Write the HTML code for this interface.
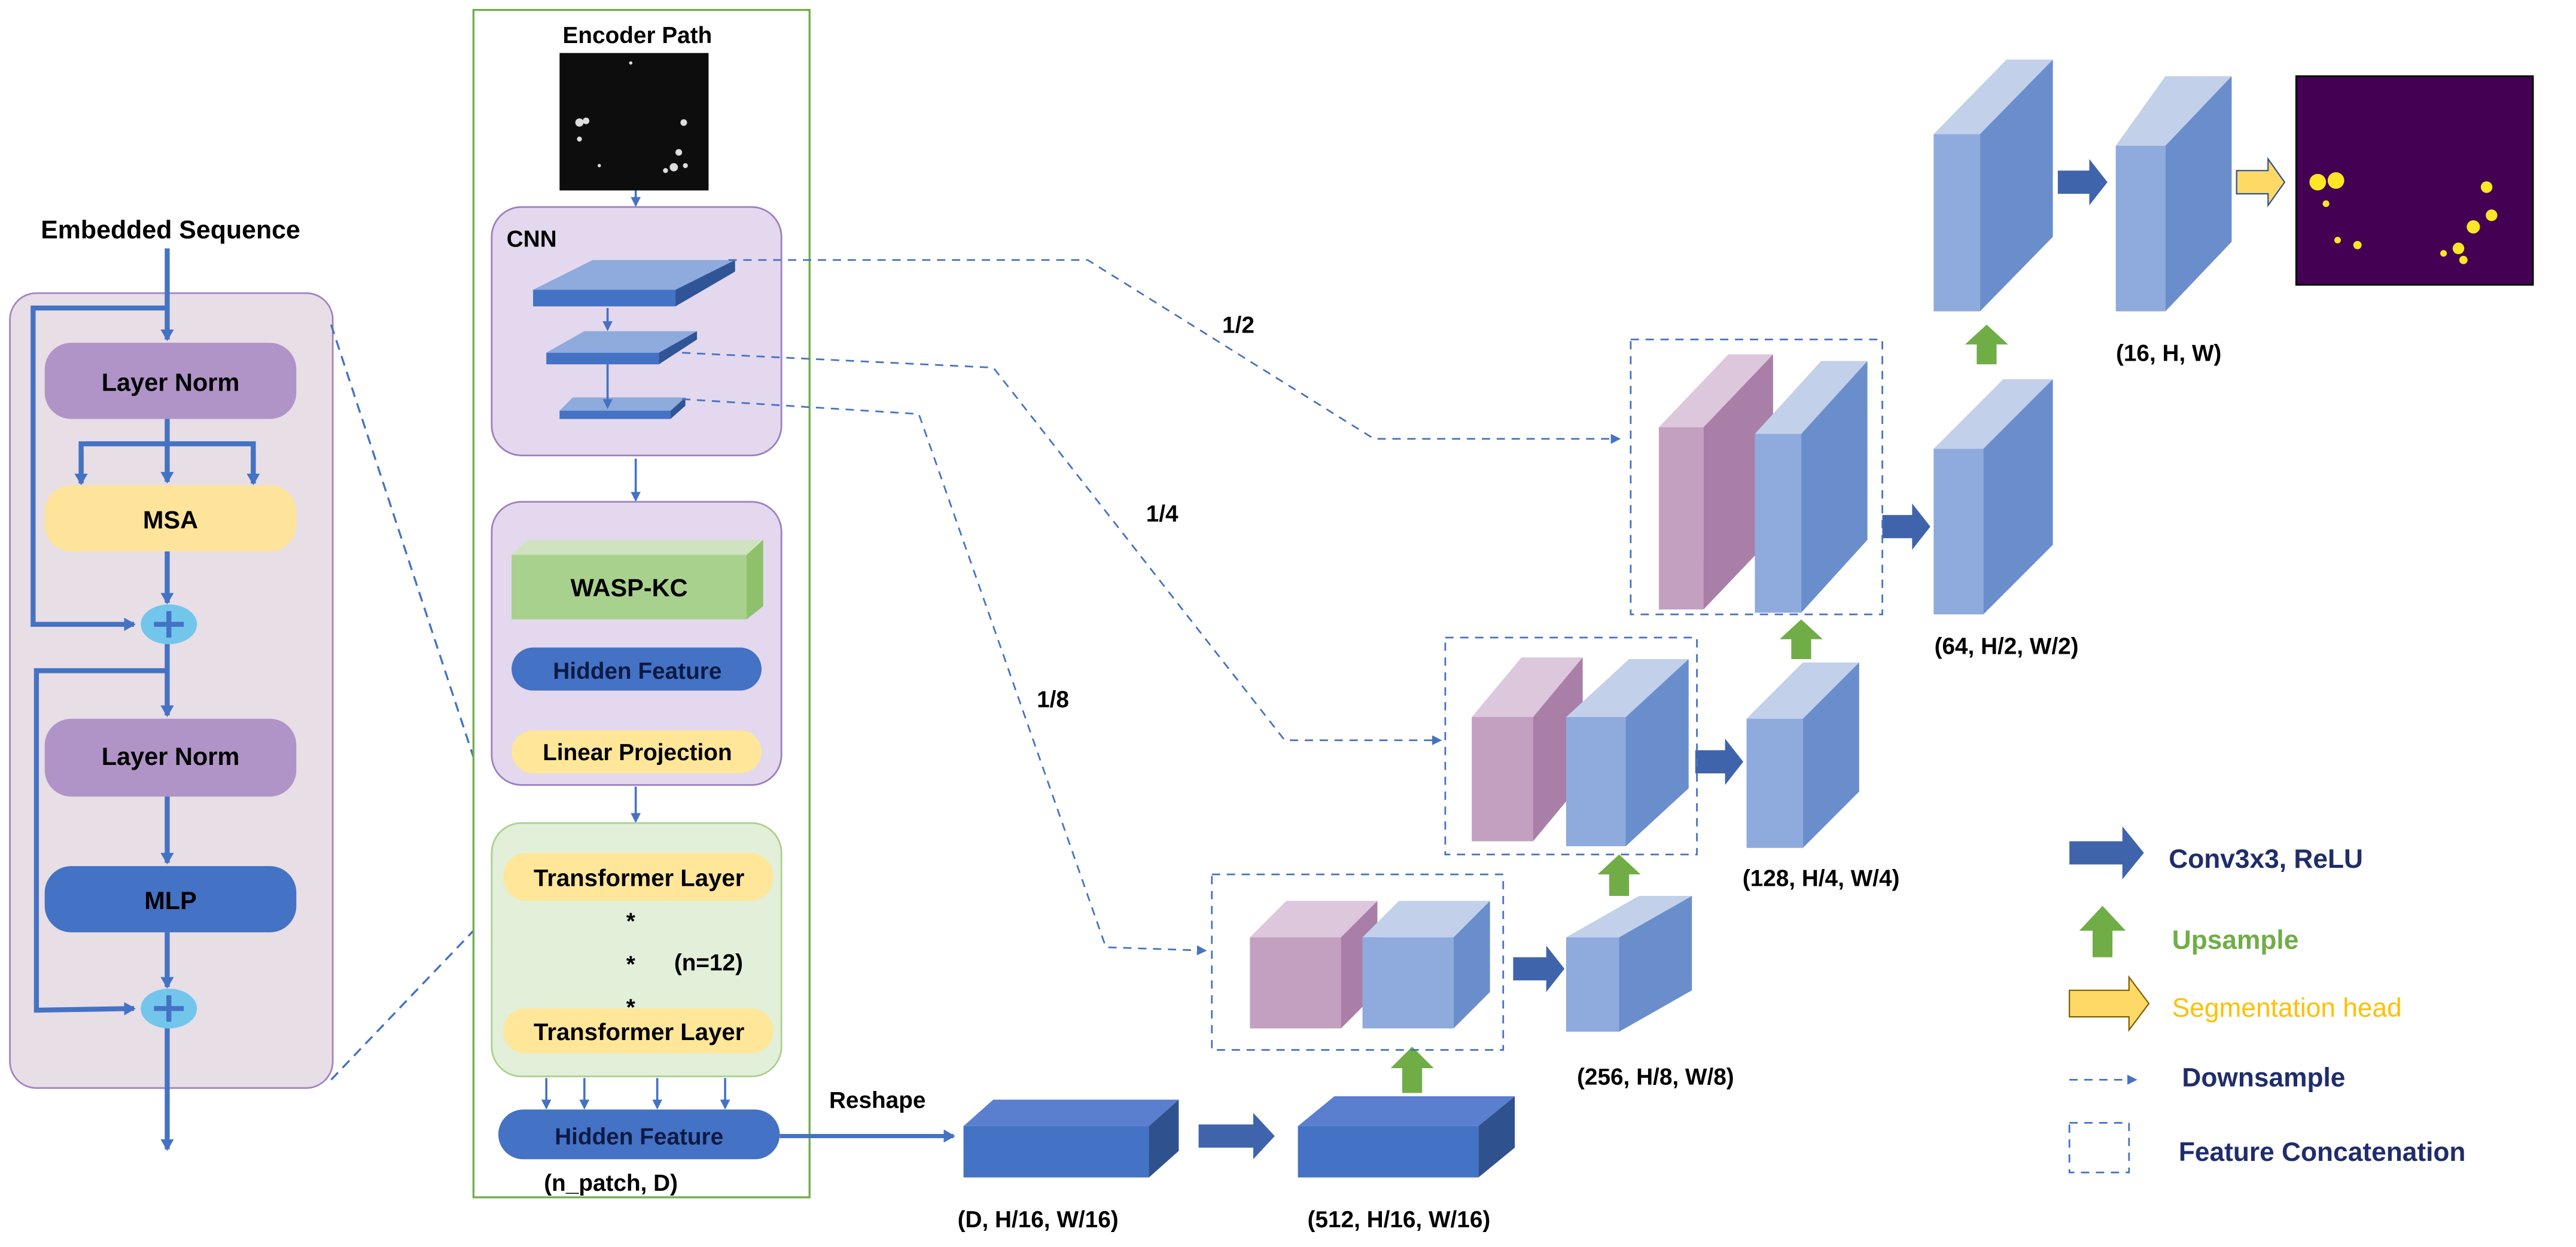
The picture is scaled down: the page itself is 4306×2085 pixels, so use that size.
<!DOCTYPE html>
<html><head><meta charset="utf-8"><style>
html,body{margin:0;padding:0;background:#fff;}
svg{display:block;}
text{font-family:"Liberation Sans",Arial,sans-serif;font-weight:bold;}
</style></head><body>
<svg width="4306" height="2085" viewBox="0 0 1556 753" preserveAspectRatio="none" xmlns="http://www.w3.org/2000/svg">
<defs>
<marker id="ah" markerWidth="8" markerHeight="8" refX="6" refY="4" orient="auto" markerUnits="userSpaceOnUse"><path d="M0,0 L7,4 L0,8 z" fill="#4472c4"/></marker>
<marker id="ahs" markerWidth="6" markerHeight="6" refX="5" refY="3" orient="auto" markerUnits="userSpaceOnUse"><path d="M0,0 L6,3 L0,6 z" fill="#4472c4"/></marker>
</defs>
<!-- Left panel -->
<text x="103" y="144" font-size="15.5" text-anchor="middle" fill="#000">Embedded Sequence</text>
<rect x="6" y="177" width="195" height="480" rx="16" fill="#e8dee6" stroke="#a383c4" stroke-width="1"/>
<g stroke="#4472c4" stroke-width="3" fill="none">
<line x1="101" y1="150" x2="101" y2="205" marker-end="url(#ah)"/>
<polyline points="101,186 20,186 20,377 81,377" marker-end="url(#ah)"/>
<line x1="101" y1="252" x2="101" y2="291" marker-end="url(#ah)"/>
<polyline points="49,291 49,268 153,268 153,291"/>
<line x1="49" y1="272" x2="49" y2="292" marker-end="url(#ah)"/>
<line x1="153" y1="272" x2="153" y2="292" marker-end="url(#ah)"/>
<line x1="101" y1="333" x2="101" y2="364" marker-end="url(#ah)"/>
<line x1="101" y1="388" x2="101" y2="432" marker-end="url(#ah)"/>
<polyline points="101,405 22,405 22,610 81,609" marker-end="url(#ah)"/>
<line x1="101" y1="479" x2="101" y2="521" marker-end="url(#ah)"/>
<line x1="101" y1="563" x2="101" y2="596" marker-end="url(#ah)"/>
<line x1="101" y1="620" x2="101" y2="694" marker-end="url(#ah)"/>
</g>
<rect x="27" y="207" width="152" height="46" rx="16" fill="#b094c8"/>
<text x="103" y="236" font-size="15" text-anchor="middle">Layer Norm</text>
<rect x="27" y="293" width="152" height="40" rx="16" fill="#fde49a"/>
<text x="103" y="319" font-size="15" text-anchor="middle">MSA</text>
<ellipse cx="102" cy="377" rx="17" ry="12" fill="#72c6ec"/>
<path d="M93,377 H111 M102,369 V385" stroke="#4472c4" stroke-width="3"/>
<rect x="27" y="434" width="152" height="47" rx="16" fill="#b094c8"/>
<text x="103" y="462" font-size="15" text-anchor="middle">Layer Norm</text>
<rect x="27" y="523" width="152" height="40" rx="16" fill="#4472c4"/>
<text x="103" y="549" font-size="15" text-anchor="middle">MLP</text>
<ellipse cx="102" cy="609" rx="17" ry="12" fill="#72c6ec"/>
<path d="M93,609 H111 M102,601 V617" stroke="#4472c4" stroke-width="3"/>
<!-- dashed zoom lines -->
<line x1="200" y1="196" x2="305" y2="515" stroke="#4472c4" stroke-width="1.2" stroke-dasharray="6,4"/>
<line x1="200" y1="652" x2="307" y2="540" stroke="#4472c4" stroke-width="1.2" stroke-dasharray="6,4"/>
<!-- Encoder panel -->
<rect x="286" y="6" width="203" height="717" fill="#fff" stroke="#70ad47" stroke-width="1.2"/>
<text x="385" y="26" font-size="14" text-anchor="middle">Encoder Path</text>
<rect x="338" y="32" width="90" height="83" fill="#0d0d0d"/>
<g fill="#ddd"><circle cx="350" cy="74" r="2.5"/><circle cx="354" cy="73" r="2"/><circle cx="350" cy="84" r="1.5"/><circle cx="413" cy="74" r="2"/><circle cx="410" cy="92" r="2"/><circle cx="407" cy="101" r="2.5"/><circle cx="402" cy="103" r="1.5"/><circle cx="414" cy="100" r="1.5"/><circle cx="381" cy="38" r="1"/><circle cx="362" cy="100" r="1"/></g>
<rect x="297" y="125" width="175" height="150" rx="18" fill="#e3d8ed" stroke="#9b7fc0" stroke-width="1"/>
<text x="306" y="149" font-size="14">CNN</text>
<polygon points="322,175 358,157 444,157 408,175" fill="#8faadc"/>
<rect x="322" y="175" width="86" height="10" fill="#4472c4"/>
<polygon points="408,175 444,157 444,164 408,185" fill="#2f5597"/>
<polygon points="330,213 353,200 421,200 398,213" fill="#8faadc"/>
<rect x="330" y="213" width="68" height="7" fill="#4472c4"/>
<polygon points="398,213 421,200 421,205 398,220" fill="#2f5597"/>
<polygon points="338,248 346,240 414,240 405,248" fill="#8faadc"/>
<rect x="338" y="248" width="67" height="5" fill="#4472c4"/>
<polygon points="405,248 414,240 414,245 405,253" fill="#2f5597"/>
<g stroke="#4472c4" stroke-width="1.3" fill="none">
<line x1="384" y1="115" x2="384" y2="124" marker-end="url(#ahs)"/>
<line x1="367" y1="186" x2="367" y2="199" marker-end="url(#ahs)"/>
<line x1="367" y1="220" x2="367" y2="246" marker-end="url(#ahs)"/>
<line x1="384" y1="277" x2="384" y2="302" marker-end="url(#ahs)"/>
<line x1="384" y1="475" x2="384" y2="496" marker-end="url(#ahs)"/>
<line x1="330" y1="651" x2="330" y2="669" marker-end="url(#ahs)"/>
<line x1="353" y1="651" x2="353" y2="669" marker-end="url(#ahs)"/>
<line x1="397" y1="651" x2="397" y2="669" marker-end="url(#ahs)"/>
<line x1="438" y1="651" x2="438" y2="669" marker-end="url(#ahs)"/>
</g>
<rect x="297" y="303" width="175" height="171" rx="18" fill="#e3d8ed" stroke="#9b7fc0" stroke-width="1"/>
<polygon points="309,335 319,326 461,326 451,335" fill="#cfe3c0"/>
<rect x="309" y="335" width="142" height="39" fill="#a9d18e"/>
<polygon points="451,335 461,326 461,366 451,374" fill="#8dc16a"/>
<text x="380" y="360" font-size="15" text-anchor="middle">WASP-KC</text>
<rect x="309" y="391" width="151" height="26" rx="13" fill="#4472c4"/>
<text x="385" y="410" font-size="14" text-anchor="middle" fill="#0c1a45">Hidden Feature</text>
<rect x="309" y="441" width="151" height="26" rx="13" fill="#ffe699"/>
<text x="385" y="459" font-size="14" text-anchor="middle">Linear Projection</text>
<rect x="297" y="497" width="175" height="153" rx="18" fill="#e2efd9" stroke="#a9d18e" stroke-width="1"/>
<rect x="304" y="515" width="163" height="29" rx="14" fill="#ffe699"/>
<text x="386" y="535" font-size="14.5" text-anchor="middle">Transformer Layer</text>
<rect x="304" y="609" width="163" height="27" rx="13" fill="#ffe699"/>
<text x="386" y="628" font-size="14.5" text-anchor="middle">Transformer Layer</text>
<text x="381" y="561" font-size="14" text-anchor="middle">*</text>
<text x="381" y="587" font-size="14" text-anchor="middle">*</text>
<text x="381" y="613" font-size="14" text-anchor="middle">*</text>
<text x="428" y="586" font-size="14" text-anchor="middle">(n=12)</text>
<rect x="301" y="670" width="170" height="30" rx="15" fill="#4472c4"/>
<text x="386" y="691" font-size="14" text-anchor="middle" fill="#0c1a45">Hidden Feature</text>
<text x="369" y="719" font-size="14" text-anchor="middle">(n_patch, D)</text>
<line x1="471" y1="686" x2="576" y2="686" stroke="#4472c4" stroke-width="2.5" marker-end="url(#ah)"/>
<text x="530" y="669" font-size="14" text-anchor="middle">Reshape</text>
<!-- dashed skip connections -->
<g stroke="#4472c4" stroke-width="1" stroke-dasharray="5,4" fill="none">
<polyline points="440,157 657,157 830,265 978,265" marker-end="url(#ahs)"/>
<polyline points="412,213 600,222 776,447 870,447" marker-end="url(#ahs)"/>
<polyline points="412,241 555,250 668,572 728,574" marker-end="url(#ahs)"/>
</g>
<text x="748" y="201" font-size="14" text-anchor="middle">1/2</text>
<text x="702" y="315" font-size="14" text-anchor="middle">1/4</text>
<text x="636" y="427" font-size="14" text-anchor="middle">1/8</text>
<!-- bottom blocks -->
<polygon points="582,680 600,664 712,664 694,680" fill="#5b7fcf"/>
<rect x="582" y="680" width="112" height="31" fill="#4472c4"/>
<polygon points="694,680 712,664 712,695 694,711" fill="#2f528f"/>
<polygon points="784,680 806,662 915,662 893,680" fill="#5b7fcf"/>
<rect x="784" y="680" width="109" height="31" fill="#4472c4"/>
<polygon points="893,680 915,662 915,693 893,711" fill="#2f528f"/>
<text x="627" y="741" font-size="14" text-anchor="middle">(D, H/16, W/16)</text>
<text x="845" y="741" font-size="14" text-anchor="middle">(512, H/16, W/16)</text>
<!-- blue arrows -->
<g fill="#3f64ac">
<polygon points="724,679 757,679 757,672 770,686 757,700 757,693 724,693"/>
<polygon points="914,578 934,578 934,571 945,585 934,599 934,592 914,592"/>
<polygon points="1024,453 1042,453 1042,446 1053,460 1042,474 1042,467 1024,467"/>
<polygon points="1137,311 1155,311 1155,304 1166,318 1155,332 1155,325 1137,325"/>
<polygon points="1243,103 1262,103 1262,96 1273,110 1262,124 1262,117 1243,117"/>
</g>
<polygon points="1351,103 1370,103 1370,96 1380,110 1370,124 1370,117 1351,117" fill="#ffd966" stroke="#2f528f" stroke-width="0.8"/>
<!-- green arrows -->
<g fill="#70ad47">
<polygon points="847,660 859,660 859,645 866,645 853,632 840,645 847,645"/>
<polygon points="972,541 984,541 984,528 991,528 978,516 965,528 972,528"/>
<polygon points="1082,398 1094,398 1094,386 1101,386 1088,374 1075,386 1082,386"/>
<polygon points="1194,220 1206,220 1206,208 1213,208 1200,196 1187,208 1194,208"/>
<polygon points="1264,578 1276,578 1276,562 1284,562 1270,547 1256,562 1264,562"/>
</g>
<!-- concat boxes -->
<g stroke="#4472c4" stroke-width="1" stroke-dasharray="5,4" fill="none">
<rect x="732" y="528" width="176" height="106"/>
<rect x="873" y="385" width="152" height="131"/>
<rect x="985" y="205" width="152" height="166"/>
</g>
<!-- cubes -->
<polygon points="755,566 777,544 832,544 810,566" fill="#dcc7dc"/><rect x="755" y="566" width="55" height="55" fill="#c39fc0"/><polygon points="810,566 832,544 832,599 810,621" fill="#a97fa8"/>
<polygon points="823,566 845,544 900,544 878,566" fill="#c3d0ea"/><rect x="823" y="566" width="55" height="55" fill="#8faadc"/><polygon points="878,566 900,544 900,599 878,621" fill="#6a8ecc"/>
<polygon points="946,566 990,541 1022,541 978,566" fill="#c3d0ea"/><rect x="946" y="566" width="32" height="57" fill="#8faadc"/><polygon points="978,566 1022,541 1022,598 978,623" fill="#6a8ecc"/>
<polygon points="889,433 919,397 956,397 926,433" fill="#dcc7dc"/><rect x="889" y="433" width="37" height="75" fill="#c39fc0"/><polygon points="926,433 956,397 956,472 926,508" fill="#a97fa8"/>
<polygon points="946,433 984,398 1020,398 982,433" fill="#c3d0ea"/><rect x="946" y="433" width="36" height="78" fill="#8faadc"/><polygon points="982,433 1020,398 1020,476 982,511" fill="#6a8ecc"/>
<polygon points="1055,434 1089,400 1123,400 1089,434" fill="#c3d0ea"/><rect x="1055" y="434" width="34" height="78" fill="#8faadc"/><polygon points="1089,434 1123,400 1123,478 1089,512" fill="#6a8ecc"/>
<polygon points="1002,258 1044,214 1071,214 1029,258" fill="#dcc7dc"/><rect x="1002" y="258" width="27" height="110" fill="#c39fc0"/><polygon points="1029,258 1071,214 1071,324 1029,368" fill="#a97fa8"/>
<polygon points="1060,262 1100,218 1128,218 1088,262" fill="#c3d0ea"/><rect x="1060" y="262" width="28" height="108" fill="#8faadc"/><polygon points="1088,262 1128,218 1128,326 1088,370" fill="#6a8ecc"/>
<polygon points="1168,271 1210,229 1240,229 1198,271" fill="#c3d0ea"/><rect x="1168" y="271" width="30" height="100" fill="#8faadc"/><polygon points="1198,271 1240,229 1240,329 1198,371" fill="#6a8ecc"/>
<polygon points="1168,81 1212,36 1240,36 1196,81" fill="#c3d0ea"/><rect x="1168" y="81" width="28" height="107" fill="#8faadc"/><polygon points="1196,81 1240,36 1240,143 1196,188" fill="#6a8ecc"/>
<polygon points="1278,88 1308,46 1348,46 1308,88" fill="#c3d0ea"/><rect x="1278" y="88" width="30" height="100" fill="#8faadc"/><polygon points="1308,88 1348,46 1348,146 1308,188" fill="#6a8ecc"/>
<text x="1000" y="655" font-size="14" text-anchor="middle">(256, H/8, W/8)</text>
<text x="1100" y="535" font-size="14" text-anchor="middle">(128, H/4, W/4)</text>
<text x="1212" y="395" font-size="14" text-anchor="middle">(64, H/2, W/2)</text>
<text x="1310" y="218" font-size="14" text-anchor="middle">(16, H, W)</text>
<!-- seg image -->
<rect x="1387" y="46" width="143" height="126" fill="#440154" stroke="#000" stroke-width="1"/>
<g fill="#fde725"><circle cx="1400" cy="110" r="5"/><circle cx="1411" cy="109" r="5"/><circle cx="1405" cy="123" r="2"/><circle cx="1412" cy="145" r="2"/><circle cx="1424" cy="148" r="2.5"/><circle cx="1502" cy="113" r="3.5"/><circle cx="1505" cy="130" r="3.5"/><circle cx="1494" cy="137" r="4"/><circle cx="1485" cy="150" r="3.5"/><circle cx="1476" cy="153" r="2"/><circle cx="1488" cy="157" r="2.5"/></g>
<!-- legend -->
<polygon points="1250,508 1282,508 1282,499 1295,515 1282,531 1282,522 1250,522" fill="#3f64ac"/>
<text x="1310" y="524" font-size="16" fill="#1f2d6b">Conv3x3, ReLU</text>
<text x="1312" y="573" font-size="16" fill="#70ad47">Upsample</text>
<polygon points="1250,598 1286,598 1286,590 1298,606 1286,622 1286,614 1250,614" fill="#ffd966" stroke="#7f6000" stroke-width="0.8"/>
<text x="1312" y="614" font-size="16" fill="#ffc000" style="font-weight:normal">Segmentation head</text>
<line x1="1250" y1="652" x2="1290" y2="652" stroke="#4472c4" stroke-width="1" stroke-dasharray="5,4" marker-end="url(#ahs)"/>
<text x="1318" y="656" font-size="16" fill="#1f2d6b">Downsample</text>
<rect x="1250" y="678" width="36" height="30" fill="none" stroke="#4472c4" stroke-width="1" stroke-dasharray="5,4"/>
<text x="1316" y="701" font-size="16" fill="#1f2d6b">Feature Concatenation</text>
</svg>
</body></html>
